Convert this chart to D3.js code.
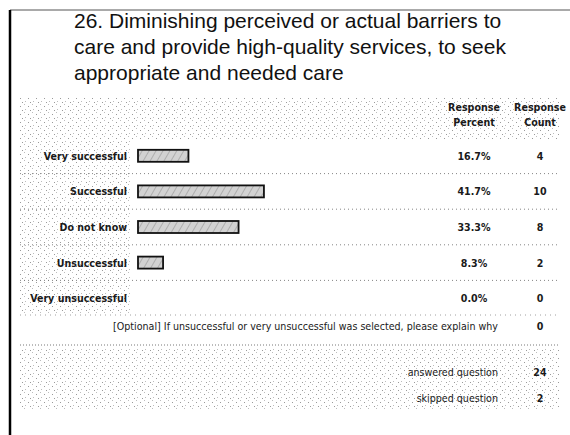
<!DOCTYPE html>
<html>
<head>
<meta charset="utf-8">
<script src="https://cdn.jsdelivr.net/npm/d3@7"></script>
<style>
  html, body { margin: 0; padding: 0; background: #fff; }
  svg { display: block; }
  .small { font-family: "DejaVu Sans Condensed", "DejaVu Sans", sans-serif; font-size: 10.6px; fill: #1a1a1a; }
</style>
</head>
<body>
<svg id="chart" width="570" height="435"></svg>
<script>
// Survey question and answer breakdown
const titleLines = [
  "26. Diminishing perceived or actual barriers to",
  "care and provide high-quality services, to seek",
  "appropriate and needed care"
];
const categories = ["Very successful", "Successful", "Do not know", "Unsuccessful", "Very unsuccessful"];
const percents = [16.7, 41.7, 33.3, 8.3, 0.0];
const counts = [4, 10, 8, 2, 0];
const percentLabels = ["16.7%", "41.7%", "33.3%", "8.3%", "0.0%"];
const headerLabels = [["Response", "Percent"], ["Response", "Count"]];
const optionalLabel = "[Optional] If unsuccessful or very unsuccessful was selected, please explain why";
const optionalCount = [0];
const summaryLabels = ["answered question", "skipped question"];
const summaryCounts = [24, 2];

const svg = d3.select("#chart");
const defs = svg.append("defs");

// Sparse halftone dot texture for shaded table regions
const dots = defs.append("pattern").attr("id", "dots")
  .attr("width", 8).attr("height", 8).attr("patternUnits", "userSpaceOnUse");
[[0,0],[4,2],[1,5],[6,6]].forEach(([x, y], i) => {
  dots.append("rect").attr("x", x).attr("y", y).attr("width", 1).attr("height", 1)
    .attr("fill", i % 2 ? "#9a9a9a" : "#bdbdbd");
});

// Grey hatched fill for the bars
const hatch = defs.append("pattern").attr("id", "hatch")
  .attr("width", 6).attr("height", 6).attr("patternUnits", "userSpaceOnUse")
  .attr("patternTransform", "rotate(30)");
hatch.append("rect").attr("width", 6).attr("height", 6).attr("fill", "#d2d2d2");
hatch.append("line").attr("x1", 0).attr("y1", 0).attr("x2", 0).attr("y2", 6)
  .attr("stroke", "#8a8a8a").attr("stroke-width", 1);

// Page frame
svg.append("line").attr("x1", 10).attr("x2", 570).attr("y1", 10).attr("y2", 10)
  .attr("stroke", "#555").attr("stroke-width", 1);
svg.append("line").attr("x1", 10).attr("x2", 10).attr("y1", 10).attr("y2", 435)
  .attr("stroke", "#000").attr("stroke-width", 2.5);

// Title
svg.append("g").selectAll("text").data(titleLines).join("text")
  .attr("x", 74).attr("y", (d, i) => 28 + i * 26)
  .style("font-family", "'Liberation Sans', Arial, sans-serif")
  .style("font-size", "21px").style("fill", "#111")
  .text(d => d);

// Shaded header band and label column
svg.append("rect").attr("x", 18).attr("y", 97).attr("width", 542).attr("height", 42)
  .attr("fill", "url(#dots)");
svg.append("rect").attr("x", 18).attr("y", 139).attr("width", 112).attr("height", 174)
  .attr("fill", "url(#dots)");

// Column headers
const colX = [474, 540];
headerLabels.forEach((lines, c) => {
  svg.append("text").attr("class", "small").attr("text-anchor", "middle")
    .attr("x", colX[c]).attr("y", 111).style("font-weight", "bold").text(lines[0]);
  svg.append("text").attr("class", "small").attr("text-anchor", "middle")
    .attr("x", colX[c]).attr("y", 126).style("font-weight", "bold").text(lines[1]);
});

// Scales
const y = d3.scaleBand().domain(categories).range([138, 316]).paddingInner(0).paddingOuter(0);
const x = d3.scaleLinear().domain([0, 100]).range([138, 440]);
const barH = 12;

// Row separators (dotted)
svg.append("g").selectAll("line").data(categories.slice(0, -1)).join("line")
  .attr("x1", 20).attr("x2", 560)
  .attr("y1", d => y(d) + y.bandwidth()).attr("y2", d => y(d) + y.bandwidth())
  .attr("stroke", "#666").attr("stroke-width", 0.8).attr("stroke-dasharray", "1,3");

// Category labels
svg.append("g").selectAll("text").data(categories).join("text")
  .attr("class", "small").attr("text-anchor", "end").style("font-weight", "bold")
  .attr("x", 127).attr("y", d => y(d) + y.bandwidth() / 2 + 4)
  .text(d => d);

// Bars
svg.append("g").selectAll("rect").data(categories.map((c, i) => ({ c, v: percents[i] })).filter(d => d.v > 0))
  .join("rect")
  .attr("x", x(0)).attr("y", d => y(d.c) + y.bandwidth() / 2 - barH / 2)
  .attr("width", d => x(d.v) - x(0)).attr("height", barH)
  .attr("fill", "url(#hatch)").attr("stroke", "#111").attr("stroke-width", 1.8);

// Percent and count columns
svg.append("g").selectAll("text").data(categories).join("text")
  .attr("class", "small").attr("text-anchor", "middle").style("font-weight", "bold")
  .attr("x", colX[0]).attr("y", d => y(d) + y.bandwidth() / 2 + 4)
  .text((d, i) => percentLabels[i]);
svg.append("g").selectAll("text").data(categories).join("text")
  .attr("class", "small").attr("text-anchor", "middle").style("font-weight", "bold")
  .attr("x", colX[1]).attr("y", d => y(d) + y.bandwidth() / 2 + 4)
  .text((d, i) => counts[i]);

// Optional free-text row
svg.append("line").attr("x1", 20).attr("x2", 560).attr("y1", 315).attr("y2", 315)
  .attr("stroke", "#888").attr("stroke-width", 0.8).attr("stroke-dasharray", "1,4");
svg.append("text").attr("class", "small").attr("text-anchor", "end")
  .attr("x", 498).attr("y", 330).text(optionalLabel);
svg.append("text").attr("class", "small").attr("text-anchor", "middle").style("font-weight", "bold")
  .attr("x", colX[1]).attr("y", 330).text(optionalCount[0]);
svg.append("line").attr("x1", 20).attr("x2", 560).attr("y1", 345).attr("y2", 345)
  .attr("stroke", "#555").attr("stroke-width", 0.8).attr("stroke-dasharray", "1,2");

// Summary band
svg.append("rect").attr("x", 18).attr("y", 347).attr("width", 542).attr("height", 62)
  .attr("fill", "url(#dots)");
svg.append("g").selectAll("text").data(summaryLabels).join("text")
  .attr("class", "small").attr("text-anchor", "end")
  .attr("x", 498).attr("y", (d, i) => 376 + i * 26).text(d => d);
svg.append("g").selectAll("text").data(summaryCounts).join("text")
  .attr("class", "small").attr("text-anchor", "middle").style("font-weight", "bold")
  .attr("x", colX[1]).attr("y", (d, i) => 376 + i * 26).text(d => d);
</script>
</body>
</html>
